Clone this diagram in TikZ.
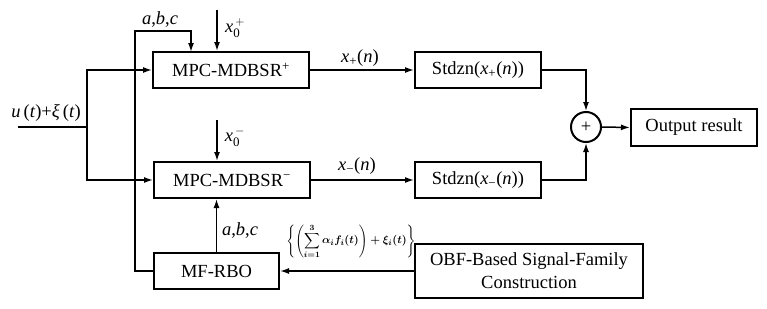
\documentclass[tikz,border=0pt]{standalone}
\usepackage{amsmath}
\usepackage{fontspec}
\setmainfont{Liberation Serif}
\usetikzlibrary{arrows.meta}
\newcommand\fs{\rmfamily\fontsize{18.5}{23}\selectfont}
\newcommand\fsm{\fontsize{11}{13}\selectfont}
\newsavebox\exprbox
\begin{document}
\sbox\exprbox{\fsm\mathversion{bold}$\displaystyle\left\{\left(\sum_{i=1}^{3}\alpha_i f_i(t)\right)+\xi_i(t)\right\}$}%
\begin{tikzpicture}[x=1pt,y=-1pt,
  box/.style={draw,line width=2pt,inner sep=0pt,font=\fs,align=center},
  conn/.style={line width=1.5pt},
  arr/.style={conn,-{Latex[length=9pt,width=6pt]}},
  lbl/.style={inner sep=0pt,font=\fs}]
\useasboundingbox (0,0) rectangle (767,308);
% boxes
\node[box,minimum width=156pt,minimum height=36pt] (mp) at (231,70) {MPC-MDBSR\textsuperscript{+}};
\node[box,minimum width=156pt,minimum height=36pt] (mm) at (232,180) {MPC-MDBSR\textsuperscript{−}};
\node[box,minimum width=125pt,minimum height=36pt] (rbo) at (216.5,271) {MF-RBO};
\node[box,minimum width=126pt,minimum height=36pt] (sp) at (478,70) {Stdzn(\textit{x}\textsubscript{+}(\textit{n}))};
\node[box,minimum width=126pt,minimum height=36pt] (sm) at (478,180) {Stdzn(\textit{x}\textsubscript{−}(\textit{n}))};
\node[draw,circle,line width=2pt,minimum size=30pt,inner sep=0pt,font=\fs] (sum) at (586,127) {};
\node[inner sep=0pt,font=\fs] (plus) at (sum.center) {+};
\node[box,minimum width=126pt,minimum height=37pt] (out) at (694,127.5) {Output result};
\node[box,minimum width=228pt,minimum height=54pt] (obf) at (529,271) {OBF-Based Signal-Family\\Construction};
% coordinates
\coordinate (in) at (18,127);
\coordinate (j) at (87,127);
\coordinate (fb) at (135,31);
\coordinate (fbe) at (191,52);
\coordinate (x0p) at (217,10);
\coordinate (x0m) at (217,120);
% connectors
\draw[conn] (in) -- (j);
\draw[arr] (j) |- (mp.west);
\draw[arr] (j) |- (mm.west);
\draw[arr] (rbo.west) -| (fb) -| (fbe);
\draw[arr] (x0p) -- (x0p |- mp.north);
\draw[arr] (x0m) -- (x0m |- mm.north);
\draw[arr] (rbo.north) -- (rbo.north |- mm.south);
\draw[arr] (mp.east) -- (sp.west);
\draw[arr] (mm.east) -- (sm.west);
\draw[arr] (sp.east) -| (sum.north);
\draw[arr] (sm.east) -| (sum.south);
\draw[arr] (sum.east) -- (out.west);
\draw[arr] (obf.west) -- (rbo.east);
% labels
\node[lbl] (lu) at (46,113) {\textit{u}\,(\textit{t})+\textit{ξ}\,(\textit{t})};
\node[lbl] (labc1) at (160,20) {\textit{a},\textit{b},\textit{c}};
\node[lbl] (lx0p) at (235,28) {\textit{x}$_{\mathrm{0}}^{\,+}$};
\node[lbl] (lx0m) at (235,137) {\textit{x}$_{\mathrm{0}}^{\,-}$};
\node[lbl] (lxp) at (360,58) {\textit{x}\textsubscript{+}(\textit{n})};
\node[lbl] (lxm) at (357,166) {\textit{x}\textsubscript{−}(\textit{n})};
\node[lbl] (labc2) at (240,230) {\textit{a},\textit{b},\textit{c}};
\node[inner sep=0pt] (lset) at (351,241) {\usebox\exprbox};
\end{tikzpicture}
\end{document}
